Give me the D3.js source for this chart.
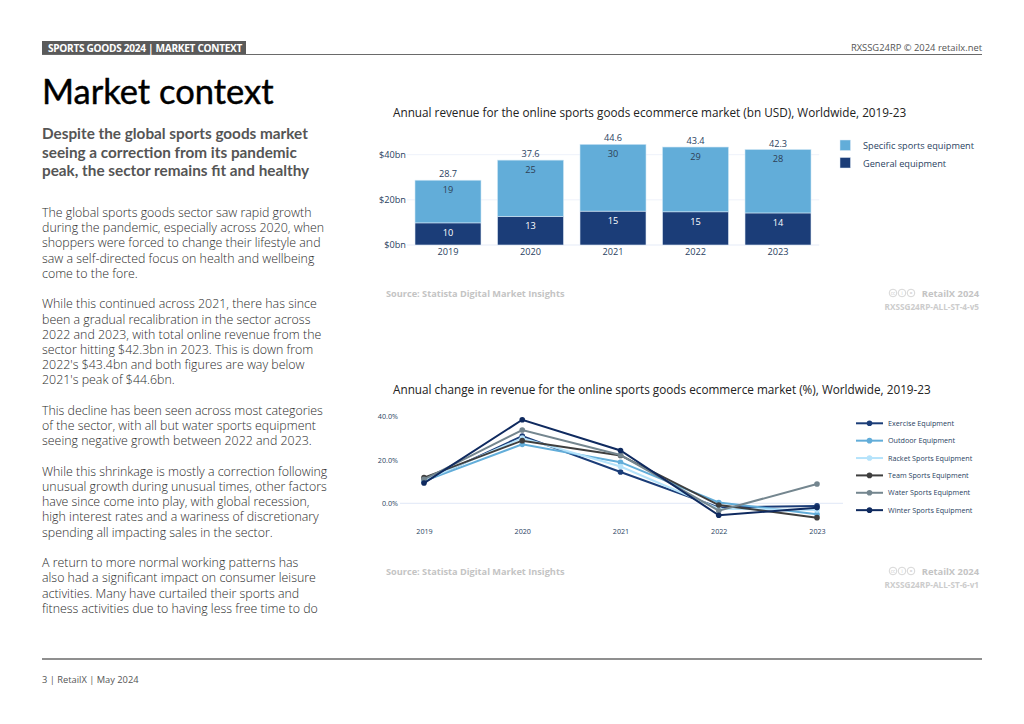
<!DOCTYPE html>
<html><head><meta charset="utf-8">
<script src="https://cdn.jsdelivr.net/npm/d3@7"></script>
<style>
html,body{margin:0;padding:0;background:#fff;overflow:hidden}
svg{display:block}
text{font-family:"Open Sans",sans-serif}
</style></head><body>
<svg id="page" width="1024" height="724"></svg>
<script>
const years=["2019","2020","2021","2022","2023"];
const generalValues=[9.8,12.7,15,14.7,14.2];
const specificValues=[18.9,24.9,29.6,28.7,28.1];
const totalValues=[28.7,37.6,44.6,43.4,42.3];
const barTicks=[0,20,40];
const barLegend=["Specific sports equipment","General equipment"];
const lineTicks=[0,20,40];
const exerciseValues=[10,30.9,14.4,-1.9,-1.2];
const outdoorValues=[10.2,27.1,18.9,0.4,-5];
const racketValues=[10.4,30,16.9,-2.5,-3.1];
const teamValues=[11.8,28.8,22,-0.8,-6.6];
const waterValues=[11,33.7,22.2,-3.4,8.9];
const winterValues=[9.3,38.4,24.3,-5.5,-2];
const lineNames=["Exercise Equipment","Outdoor Equipment","Racket Sports Equipment","Team Sports Equipment","Water Sports Equipment","Winter Sports Equipment"];
const lineColors=["#1b3d78","#62add9","#b5e3fb","#3e3e3e","#74868f","#0f2a5f"];
const bodyParagraphs=[
["The global sports goods sector saw rapid growth","during the pandemic, especially across 2020, when","shoppers were forced to change their lifestyle and","saw a self-directed focus on health and wellbeing","come to the fore."],
["While this continued across 2021, there has since","been a gradual recalibration in the sector across","2022 and 2023, with total online revenue from the","sector hitting $42.3bn in 2023. This is down from","2022's $43.4bn and both figures are way below","2021's peak of $44.6bn."],
["This decline has been seen across most categories","of the sector, with all but water sports equipment","seeing negative growth between 2022 and 2023."],
["While this shrinkage is mostly a correction following","unusual growth during unusual times, other factors","have since come into play, with global recession,","high interest rates and a wariness of discretionary","spending all impacting sales in the sector."],
["A return to more normal working patterns has","also had a significant impact on consumer leisure","activities. Many have curtailed their sports and","fitness activities due to having less free time to do"]
];
const subheadLines=["Despite the global sports goods market","seeing a correction from its pandemic","peak, the sector remains fit and healthy"];

const svg=d3.select("#page");
const ink="#2a3f5f";
function T(x,y,s,o={}){
  const t=svg.append("text").attr("x",x).attr("y",y).text(s)
   .attr("font-size",o.size||12).attr("fill",o.fill||"#000")
   .attr("font-weight",o.weight||400).attr("text-anchor",o.anchor||"start");
  if(o.family)t.style("font-family",o.family);
  if(o.ls)t.attr("letter-spacing",o.ls);
  if(o.stroke)t.attr("stroke",o.fill||"#000").attr("stroke-width",o.stroke);
  return t;
}
// page furniture
svg.append("rect").attr("x",42).attr("y",41).attr("width",204).attr("height",13.5).attr("fill","#5a5a5a");
svg.append("line").attr("x1",42).attr("x2",982).attr("y1",54.5).attr("y2",54.5).attr("stroke","#6a6a6a").attr("stroke-width",1.2);
T(48,52,"SPORTS GOODS 2024 | MARKET CONTEXT",{size:10.1,weight:700,fill:"#fff",ls:-0.3});
T(982,51,"RXSSG24RP © 2024 retailx.net",{size:9.4,anchor:"end",fill:"#555"});
T(42,104,"Market context",{size:34.5,weight:400,family:"Lato, sans-serif",fill:"#000",stroke:0.45});
subheadLines.forEach((s,i)=>T(42,139+i*18.5,s,{size:15.3,weight:700,family:"Lato, sans-serif",fill:"#555"}));
let row=0;
bodyParagraphs.forEach(p=>{p.forEach(s=>{T(42,217+row*15.22,s,{size:12.4,weight:300,fill:"#2b2b2b"});row++;});row++;});
svg.append("line").attr("x1",42).attr("x2",982).attr("y1",659).attr("y2",659).attr("stroke","#6a6a6a").attr("stroke-width",1.4);
T(42,683,"3 | RetailX | May 2024",{size:9.3,fill:"#555"});

// bar chart
T(393,117,"Annual revenue for the online sports goods ecommerce market (bn USD), Worldwide, 2019-23",{size:11.75,fill:"#222"});
const bx=d3.scaleBand().domain(years).range([406.75,819.25]).paddingInner(0.2).paddingOuter(0.1);
const by=d3.scaleLinear().domain([0,40]).range([245,154.7]);
const barGrid=svg.append("g");
barTicks.forEach(t=>barGrid.append("line").attr("x1",406.75).attr("x2",819.25).attr("y1",by(t)).attr("y2",by(t)).attr("stroke","#eef2fa").attr("stroke-width",t?1:1.6));
const yAxB=svg.append("g").attr("transform","translate(406,0)")
 .call(d3.axisLeft(by).tickValues(barTicks).tickFormat(d=>"$"+d+"bn").tickSize(0).tickPadding(0));
yAxB.select(".domain").remove();
yAxB.selectAll("text").attr("font-size",9.2).attr("fill",ink).style("font-family",'"Open Sans",sans-serif');
const xAxB=svg.append("g").attr("transform","translate(0,245)")
 .call(d3.axisBottom(bx).tickSize(0).tickPadding(3));
xAxB.select(".domain").remove();
xAxB.selectAll("text").attr("font-size",9.2).attr("fill",ink).style("font-family",'"Open Sans",sans-serif');
const barRows=years.map((y,i)=>({y,g:generalValues[i],s:specificValues[i],t:totalValues[i]}));
const barColors=["#62add9","#1b3d78"];
svg.append("g").selectAll("rect").data(barRows).join("rect")
 .attr("x",d=>bx(d.y)).attr("width",bx.bandwidth()).attr("y",d=>by(d.g)).attr("height",d=>by(0)-by(d.g))
 .attr("fill",barColors[1]).attr("stroke","#dfe9f5").attr("stroke-width",0.6);
svg.append("g").selectAll("rect").data(barRows).join("rect")
 .attr("x",d=>bx(d.y)).attr("width",bx.bandwidth()).attr("y",d=>by(d.g+d.s)).attr("height",d=>by(d.g)-by(d.g+d.s))
 .attr("fill",barColors[0]).attr("stroke","#cfe6f5").attr("stroke-width",0.6);
const mid=d=>bx(d.y)+bx.bandwidth()/2;
const lab=(fy,fs,col)=>svg.append("g").selectAll("text").data(barRows).join("text")
 .attr("x",mid).attr("y",fy).text(fs).attr("text-anchor","middle").attr("font-size",9.2).attr("fill",col);
lab(d=>by(d.g)+12.8,d=>d3.format(".0f")(d.g),"#fff");
lab(d=>by(d.g+d.s)+12.5,d=>d3.format(".0f")(d.s),"#2f3f55");
lab(d=>by(d.g+d.s)-3,d=>d3.format(".1f")(d.t),ink);
barLegend.forEach((s,i)=>{
  svg.append("rect").attr("x",840).attr("y",140+i*17.5).attr("width",10.5).attr("height",10.5).attr("fill",barColors[i]).attr("stroke","#dfe9f5").attr("stroke-width",0.5);
  T(863,149+i*17.7,s,{size:9.2,fill:ink});
});
const licenceGlyphs=["cc","i","="];
function footer(yS,yC,code){
  T(386,yS,"Source: Statista Digital Market Insights",{size:9.2,weight:700,fill:"#c4c4c4"});
  T(979,yC,"RetailX 2024",{size:9.4,weight:700,fill:"#c4c4c4",anchor:"end"});
  T(979,yC+13,code,{size:8.2,weight:700,fill:"#cccccc",anchor:"end"});
  [893,902,911].forEach((cx,i)=>{
    svg.append("circle").attr("cx",cx).attr("cy",yC-4).attr("r",3.8).attr("fill","none").attr("stroke","#c4c4c4").attr("stroke-width",0.7);
    T(cx,yC-2.4,licenceGlyphs[i],{size:4.5,fill:"#c4c4c4",anchor:"middle"});
  });
}
footer(297,297,"RXSSG24RP-ALL-ST-4-v5");

// line chart
T(393,394,"Annual change in revenue for the online sports goods ecommerce market (%), Worldwide, 2019-23",{size:11.75,fill:"#222"});
const lx=d3.scalePoint().domain(years).range([424,817]);
const ly=d3.scaleLinear().domain([0,40]).range([503.3,416.3]);
svg.append("line").attr("x1",400).attr("x2",843).attr("y1",ly(0)).attr("y2",ly(0)).attr("stroke","#e6ecf8").attr("stroke-width",1.2);
const yAxL=svg.append("g").attr("transform","translate(398,0)")
 .call(d3.axisLeft(ly).tickValues(lineTicks).tickFormat(d=>d.toFixed(1)+"%").tickSize(0).tickPadding(0));
yAxL.select(".domain").remove();
yAxL.selectAll("text").attr("font-size",7.2).attr("fill",ink).style("font-family",'"Open Sans",sans-serif');
const xAxL=svg.append("g").attr("transform","translate(0,529)")
 .call(d3.axisBottom(lx).tickSize(0).tickPadding(0));
xAxL.select(".domain").remove();
xAxL.selectAll("text").attr("font-size",7.2).attr("fill",ink).style("font-family",'"Open Sans",sans-serif');
const lineSeries=[exerciseValues,outdoorValues,racketValues,teamValues,waterValues,winterValues];
const path=d3.line().x((d,i)=>lx(years[i])).y(d=>ly(d));
lineSeries.forEach((vals,k)=>{
  const g=svg.append("g");
  g.append("path").attr("d",path(vals)).attr("fill","none").attr("stroke",lineColors[k]).attr("stroke-width",2);
  g.selectAll("circle").data(vals).join("circle").attr("cx",(d,i)=>lx(years[i])).attr("cy",d=>ly(d)).attr("r",2.8).attr("fill",lineColors[k]);
});
lineNames.forEach((s,i)=>{
  const y=423.3+i*17.37;
  svg.append("line").attr("x1",856).attr("x2",883).attr("y1",y).attr("y2",y).attr("stroke",lineColors[i]).attr("stroke-width",2);
  svg.append("circle").attr("cx",869.5).attr("cy",y).attr("r",2.8).attr("fill",lineColors[i]);
  T(888,y+2.6,s,{size:7.2,fill:ink});
});
footer(575,575,"RXSSG24RP-ALL-ST-6-v1");
</script></body></html>
